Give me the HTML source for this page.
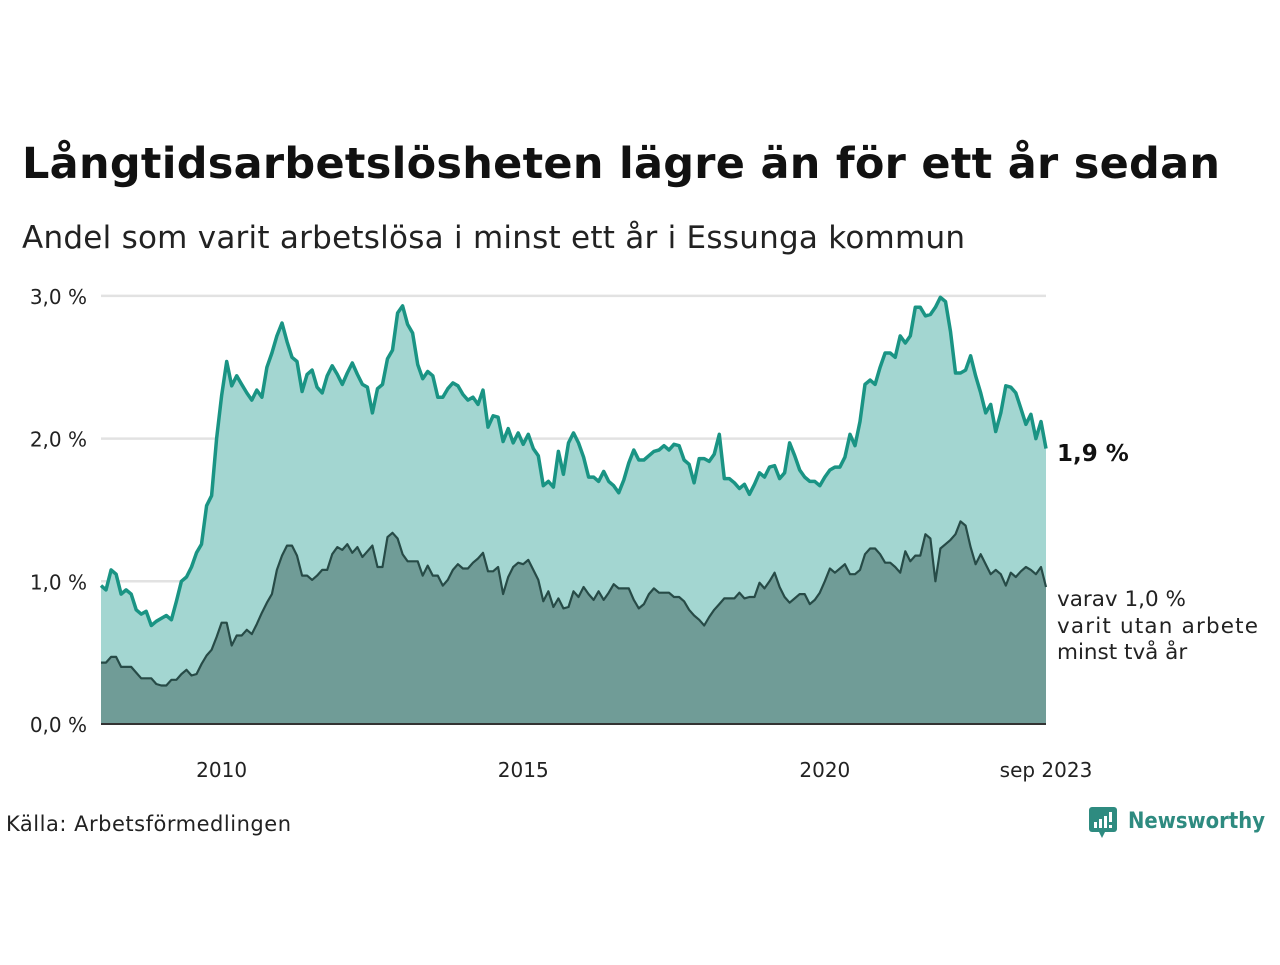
<!DOCTYPE html>
<html><head><meta charset="utf-8">
<style>
body{margin:0;width:1280px;height:960px;background:#fff;font-family:"Liberation Sans","DejaVu Sans",sans-serif;overflow:hidden}
svg text{font-family:"DejaVu Sans","Liberation Sans",sans-serif}
</style></head>
<body>
<svg id="chart" width="1280" height="960">
<text x="22" y="178" font-size="43" font-weight="bold" fill="#111" textLength="1198">Långtidsarbetslösheten lägre än för ett år sedan</text>
<text x="22" y="248" font-size="31" fill="#222" textLength="943">Andel som varit arbetslösa i minst ett år i Essunga kommun</text>
<g id="grid"></g><g id="areas"></g><g id="ylabels"></g><g id="xlabels"></g>
<text x="1057" y="461" font-size="23" font-weight="bold" fill="#111">1,9 %</text>
<text font-size="21.5" fill="#222"><tspan x="1057" y="606">varav 1,0 %</tspan><tspan x="1057" y="633" textLength="201">varit utan arbete</tspan><tspan x="1057" y="659">minst två år</tspan></text>
<text x="6" y="831" font-size="21" fill="#222" textLength="285">Källa: Arbetsförmedlingen</text>
<g>
<rect x="1089" y="807" width="28" height="25" rx="3" fill="#2e8b80"/>
<polygon points="1099,832 1105,832 1102,838" fill="#2e8b80"/>
<rect x="1094" y="822" width="3" height="6" fill="#fff"/><rect x="1099" y="819" width="3" height="9" fill="#fff"/><rect x="1104" y="816" width="3" height="12" fill="#fff"/><rect x="1109" y="812" width="3" height="10" fill="#fff"/><rect x="1109" y="825" width="3" height="3" fill="#fff"/>
<text x="1128" y="828" font-size="22" font-weight="bold" fill="#2e8b80" textLength="137" lengthAdjust="spacingAndGlyphs">Newsworthy</text>
</g>
</svg>
<script>
const startYear = 2008;
const total = [
0.97,0.94,1.08,1.05,0.91,0.94,0.91,0.80,0.77,0.79,0.69,0.72,
0.74,0.76,0.73,0.86,1.00,1.03,1.10,1.20,1.26,1.53,1.60,2.00,
2.30,2.54,2.37,2.44,2.38,2.32,2.27,2.34,2.29,2.50,2.60,2.72,
2.81,2.68,2.57,2.54,2.33,2.45,2.48,2.36,2.32,2.44,2.51,2.45,
2.38,2.46,2.53,2.45,2.38,2.36,2.18,2.35,2.38,2.56,2.62,2.88,
2.93,2.80,2.74,2.52,2.42,2.47,2.44,2.29,2.29,2.35,2.39,2.37,
2.31,2.27,2.29,2.24,2.34,2.08,2.16,2.15,1.98,2.07,1.97,2.04,
1.96,2.03,1.93,1.88,1.67,1.70,1.66,1.91,1.75,1.97,2.04,1.97,
1.87,1.73,1.73,1.70,1.77,1.70,1.67,1.62,1.71,1.83,1.92,1.85,
1.85,1.88,1.91,1.92,1.95,1.92,1.96,1.95,1.85,1.82,1.69,1.86,
1.86,1.84,1.89,2.03,1.72,1.72,1.69,1.65,1.68,1.61,1.68,1.76,
1.73,1.80,1.81,1.72,1.76,1.97,1.88,1.78,1.73,1.70,1.70,1.67,
1.73,1.78,1.80,1.80,1.87,2.03,1.95,2.12,2.38,2.41,2.38,2.50,
2.60,2.60,2.57,2.72,2.67,2.72,2.92,2.92,2.86,2.87,2.92,2.99,
2.96,2.75,2.46,2.46,2.48,2.58,2.44,2.32,2.18,2.24,2.05,2.18,
2.37,2.36,2.32,2.21,2.10,2.17,2.00,2.12,1.93];
const twoYears = [
0.43,0.43,0.47,0.47,0.40,0.40,0.40,0.36,0.32,0.32,0.32,0.28,
0.27,0.27,0.31,0.31,0.35,0.38,0.34,0.35,0.42,0.48,0.52,0.61,
0.71,0.71,0.55,0.62,0.62,0.66,0.63,0.70,0.78,0.85,0.91,1.08,
1.18,1.25,1.25,1.18,1.04,1.04,1.01,1.04,1.08,1.08,1.19,1.24,
1.22,1.26,1.20,1.24,1.17,1.21,1.25,1.10,1.10,1.31,1.34,1.30,
1.19,1.14,1.14,1.14,1.04,1.11,1.04,1.04,0.97,1.01,1.08,1.12,
1.09,1.09,1.13,1.16,1.20,1.07,1.07,1.10,0.91,1.03,1.10,1.13,
1.12,1.15,1.08,1.01,0.86,0.93,0.82,0.88,0.81,0.82,0.93,0.89,
0.96,0.91,0.87,0.93,0.87,0.92,0.98,0.95,0.95,0.95,0.87,0.81,
0.84,0.91,0.95,0.92,0.92,0.92,0.89,0.89,0.86,0.80,0.76,0.73,
0.69,0.75,0.80,0.84,0.88,0.88,0.88,0.92,0.88,0.89,0.89,0.99,
0.95,1.00,1.06,0.96,0.89,0.85,0.88,0.91,0.91,0.84,0.87,0.92,
1.00,1.09,1.06,1.09,1.12,1.05,1.05,1.08,1.19,1.23,1.23,1.19,
1.13,1.13,1.10,1.06,1.21,1.14,1.18,1.18,1.33,1.30,1.00,1.23,
1.26,1.29,1.33,1.42,1.39,1.24,1.12,1.19,1.12,1.05,1.08,1.05,
0.97,1.06,1.03,1.07,1.10,1.08,1.05,1.10,0.96];
const yTicks = [0,1,2,3];
const yTickLabels = ["0,0 %","1,0 %","2,0 %","3,0 %"];
const xTicks = [2010,2015,2020];
const xTickLabels = ["2010","2015","2020"];

const NS="http://www.w3.org/2000/svg";
const x0=101,x1=1046,yBase=724,yPer=142.7;
const n=total.length;
const xOf=i=>x0+(x1-x0)*i/(n-1);
const xYear=yr=>x0+(x1-x0)*((yr-startYear)*12)/(n-1);
const yOf=v=>yBase-v*yPer;
function mk(tag,attrs,parent){const e=document.createElementNS(NS,tag);for(const k in attrs)e.setAttribute(k,attrs[k]);document.getElementById(parent).appendChild(e);return e;}
yTicks.forEach((t,i)=>{
  if(t>0){const g=mk('line',{x1:x0,x2:x1,y1:yOf(t),y2:yOf(t),stroke:'#e2e2e2','stroke-width':2.5},'grid');
  
  }
  const l=mk('text',{x:87,y:yOf(t)+8,'font-size':20,fill:'#222','text-anchor':'end'},'ylabels');
  l.textContent=yTickLabels[i];
  
  
});
xTicks.forEach((t,i)=>{
  const l=mk('text',{x:xYear(t),y:777,'font-size':20,fill:'#222','text-anchor':'middle'},'xlabels');
  l.textContent=xTickLabels[i];
  
  
});
const endL=mk('text',{x:x1,y:777,'font-size':20,fill:'#222','text-anchor':'middle'},'xlabels');
endL.textContent="sep 2023";


function pts(arr){return arr.map((v,i)=>xOf(i).toFixed(1)+','+yOf(v).toFixed(1)).join(' ');}
function area(arr,fill,stroke,sw,name){
  const p=pts(arr);
  const a=mk('polygon',{points:x0+','+yBase+' '+p+' '+xOf(arr.length-1)+','+yBase,fill:fill},'areas');
  
  
  const l=mk('polyline',{points:p,fill:'none',stroke:stroke,'stroke-width':sw,'stroke-linejoin':'round'},'areas');
  
  
}
area(total,'#a3d6d1','#1a9484',3.5,'total');
area(twoYears,'#709c97','#274b47',2.2,'two-years');
const ax=mk('line',{x1:x0,x2:x1,y1:yBase,y2:yBase,stroke:'#333','stroke-width':2},'areas');


</script>
</body></html>
